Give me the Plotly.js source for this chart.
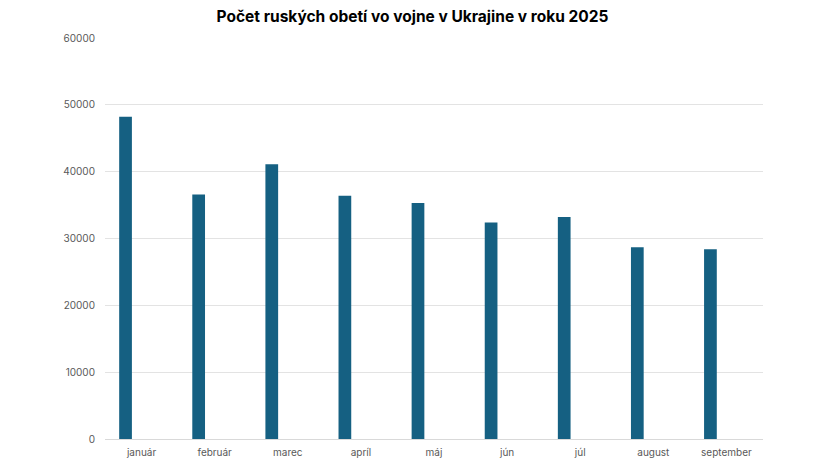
<!DOCTYPE html>
<html>
<head>
<meta charset="utf-8">
<script src="https://cdn.plot.ly/plotly-3.0.1.min.js"></script>
<style>
  html, body { margin: 0; padding: 0; background: #fff; }
  #chart { width: 825px; height: 464px; }
</style>
</head>
<body>
<div id="chart"></div>
<script>
// mesiace a pocty (odcitane z grafu)
var months = ['január', 'február', 'marec', 'apríl', 'máj', 'jún', 'júl', 'august', 'september'];
var losses = [48200, 36600, 41100, 36400, 35300, 32400, 33200, 28700, 28400];
var yTicks = [0, 10000, 20000, 30000, 40000, 50000, 60000];

var trace = {
    x: months,
    y: losses,
    type: 'bar',
    width: 0.174,
    offset: -0.306,
    marker: { color: '#156082' },
    hoverinfo: 'x+y'
};

var layout = {
    width: 825,
    height: 464,
    margin: { l: 105, r: 62, t: 38, b: 25 },
    paper_bgcolor: '#ffffff',
    plot_bgcolor: '#ffffff',
    showlegend: false,
    font: { family: 'Inter, "Open Sans", sans-serif', color: '#595959', size: 10 },
    title: {
        text: '<b>Počet ruských obetí vo vojne v Ukrajine v roku 2025</b>',
        font: { family: 'Inter, "Open Sans", sans-serif', size: 15.5, color: '#000000' },
        x: 0.5,
        xanchor: 'center',
        y: 0.965,
        yanchor: 'middle'
    },
    xaxis: {
        type: 'category',
        showgrid: false,
        showline: true,
        linecolor: '#d9d9d9',
        linewidth: 1,
        ticks: '',
        ticklabelstandoff: 4,
        tickfont: { size: 10, color: '#595959' },
        fixedrange: true
    },
    yaxis: {
        range: [0, 60000],
        tickvals: yTicks,
        ticktext: yTicks.map(String),
        showgrid: true,
        gridcolor: '#e3e3e3',
        gridwidth: 1,
        zeroline: false,
        showline: false,
        ticks: '',
        ticklabelstandoff: 9,
        tickfont: { size: 10, color: '#595959' },
        fixedrange: true
    }
};

Plotly.newPlot('chart', [trace], layout, { displayModeBar: false, staticPlot: true });
</script>
</body>
</html>
